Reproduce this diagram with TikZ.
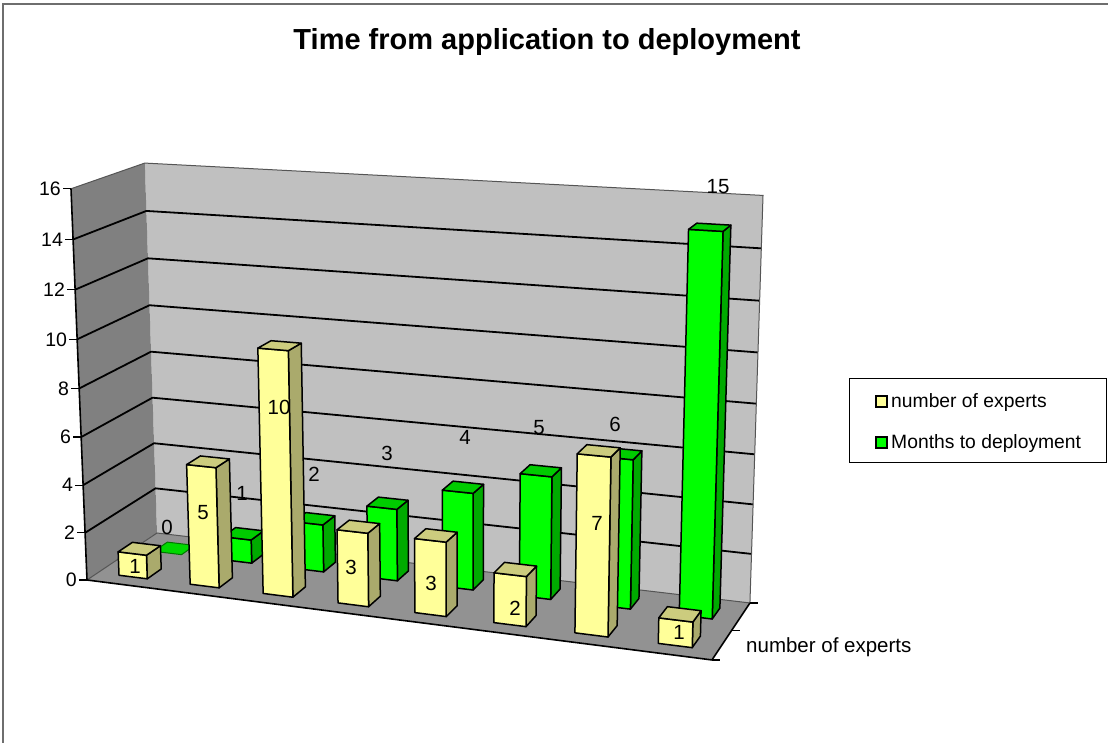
\documentclass[tikz,border=0pt]{standalone}
\usepackage{fontspec}
\setmainfont{Liberation Sans}
\definecolor{yfront}{HTML}{FFFF99}
\definecolor{yside}{HTML}{AAAA6C}
\definecolor{ytop}{HTML}{CCCC7E}
\definecolor{gfront}{HTML}{00FF00}
\definecolor{gside}{HTML}{00AA00}
\definecolor{gtop}{HTML}{00CC00}
\definecolor{sidewall}{HTML}{808080}
\definecolor{backwall}{HTML}{C0C0C0}
\definecolor{floorc}{HTML}{929292}
\definecolor{edgec}{HTML}{555555}
\definecolor{framec}{HTML}{6E6E6E}
% projection: u along categories, v depth (0 front, 1 back), w height (1 = value 16)
\newcommand\pp[4]{%
  \pgfmathsetmacro\mden{1-0.1012*(#2)+0.06045*(#3)-0.04116*(#4)}%
  \pgfmathsetmacro\mpx{(552.94*(#2)+79.49*(#3)-18.92*(#4)+87)/\mden}%
  \pgfmathsetmacro\mpy{(13.2*(#2)-14.78*(#3)-399*(#4)+580)/\mden}%
  \coordinate (#1) at (\mpx,\mpy);}
\newcommand\drawbar[4]{%
  \pgfmathsetmacro\bua{(#1+0.3)/8}%
  \pgfmathsetmacro\bub{(#1+0.7)/8}%
  \pgfmathsetmacro\bvf{#2}%
  \pgfmathsetmacro\bvk{#2+0.2}%
  \pgfmathsetmacro\bww{#3/16}%
  \pp{q1}{\bua}{\bvf}{0}\pp{q2}{\bub}{\bvf}{0}%
  \pp{q3}{\bub}{\bvf}{\bww}\pp{q4}{\bua}{\bvf}{\bww}%
  \pp{q5}{\bub}{\bvk}{0}\pp{q6}{\bub}{\bvk}{\bww}\pp{q7}{\bua}{\bvk}{\bww}%
  \draw[barline, fill=#4side] (q2)--(q5)--(q6)--(q3)--cycle;%
  \draw[barline, fill=#4front] (q1)--(q2)--(q3)--(q4)--cycle;%
  \draw[barline, fill=#4top] (q4)--(q3)--(q6)--(q7)--cycle;}
\begin{document}
\begin{tikzpicture}[x=1pt,y=-1pt,
  font=\fontsize{19.5}{22}\selectfont,
  barline/.style={draw=black, line width=1.5pt, line join=round},
  gridl/.style={draw=black, line width=1.8pt},
  thinedge/.style={draw=edgec, line width=1pt},
  axisl/.style={draw=black, line width=1.6pt},
  lbl/.style={inner sep=0pt},
  dlbl/.style={inner sep=0pt, font=\fontsize{20.5}{23}\selectfont}]
\useasboundingbox (0,0) rectangle (1108,743);
% outer frame (only top and left visible)
\draw[framec, line width=2pt] (3,760) -- (3,4) -- (1120,4);
% title
\node[lbl, font=\fontsize{29}{32}\selectfont\bfseries] (title) at (547,42) {Time from application to deployment};
% walls and floor
\pp{FL}{0}{0}{0}\pp{FR}{1}{0}{0}\pp{BL}{0}{1}{0}\pp{BR}{1}{1}{0}
\pp{FLt}{0}{0}{1}\pp{BLt}{0}{1}{1}\pp{BRt}{1}{1}{1}
\fill[backwall] (BL) -- (BR) -- (BRt) -- (BLt) -- cycle;
\fill[sidewall] (FL) -- (BL) -- (BLt) -- (FLt) -- cycle;
\fill[floorc] (FL) -- (FR) -- (BR) -- (BL) -- cycle;
% gridlines
\foreach \k in {2,4,...,14}{
  \pgfmathsetmacro\gw{\k/16}
  \pp{ga}{0}{0}{\gw}\pp{gb}{0}{1}{\gw}\pp{gc}{1}{1}{\gw}
  \draw[gridl] (ga) -- (gb) -- (gc);
}
\draw[thinedge] (FLt) -- (BLt) -- (BRt) -- (BR);
\draw[thinedge] (FL) -- (BL) -- (BR);
% value axis
\draw[axisl] (FLt) -- (FL);
\foreach \k in {0,2,...,16}{
  \pgfmathsetmacro\gw{\k/16}
  \pp{ta}{0}{0}{\gw}
  \draw[axisl, line width=1.2pt] (ta) -- ++(-8,0);
  \node[lbl, anchor=east] (ylab\k) at ([xshift=-10pt]ta) {\k};
}
% floor front and depth axis
\draw[axisl] (FL) -- (FR) -- (BR);
\pp{dm}{1}{0.5}{0}
\draw[axisl, line width=1.2pt] (FR) -- ++(8,0);
\draw[axisl, line width=1.2pt] (dm) -- ++(8,0);
\draw[axisl, line width=1.2pt] (BR) -- ++(8,0);
\node[lbl, anchor=west, font=\fontsize{20.5}{23}\selectfont] (serlab) at (746,647) {number of experts};
% green series (back row)
\pp{z1}{0.0375}{0.65}{0}\pp{z2}{0.0875}{0.65}{0}\pp{z3}{0.0875}{0.85}{0}\pp{z4}{0.0375}{0.85}{0}
\draw[fill=gfront!85!black, draw=gside!70!black, line width=1pt] (z1)--(z2)--(z3)--(z4)--cycle;
\foreach \i/\val in {1/1,2/2,3/3,4/4,5/5,6/6,7/15}{
  \drawbar{\i}{0.65}{\val}{g}
}
% yellow series (front row)
\foreach \i/\val in {0/1,1/5,2/10,3/3,4/3,5/2,6/7,7/1}{
  \drawbar{\i}{0.15}{\val}{y}
}
% data labels, green
\node[dlbl] (g0) at (167,527) {0};
\node[dlbl] (g1) at (242,493) {1};
\node[dlbl] (g2) at (314,474) {2};
\node[dlbl] (g3) at (387,453) {3};
\node[dlbl] (g4) at (465,437) {4};
\node[dlbl] (g5) at (539,428) {5};
\node[dlbl] (g6) at (615,424) {6};
\node[dlbl] (g7) at (718,187) {15};
% data labels, yellow
\node[dlbl] (y0) at (135,566) {1};
\node[dlbl] (y1) at (203,513) {5};
\node[dlbl] (y2) at (279,407) {10};
\node[dlbl] (y3) at (351,567) {3};
\node[dlbl] (y4) at (431,583) {3};
\node[dlbl] (y5) at (515,608) {2};
\node[dlbl] (y6) at (597,523) {7};
\node[dlbl] (y7) at (679,632) {1};
% legend
\draw[black, line width=1pt] (849,378) rectangle (1106,462);
\draw[fill=yfront, line width=1.3pt] (876,396) rectangle (887,407);
\node[lbl, anchor=base west, font=\fontsize{19.3}{22}\selectfont] (leg1) at (891,407) {number of experts};
\draw[fill=gfront, line width=1.3pt] (876,437) rectangle (887,448);
\node[lbl, anchor=base west, font=\fontsize{19.3}{22}\selectfont] (leg2) at (891,448) {Months to deployment};
\end{tikzpicture}
\end{document}
